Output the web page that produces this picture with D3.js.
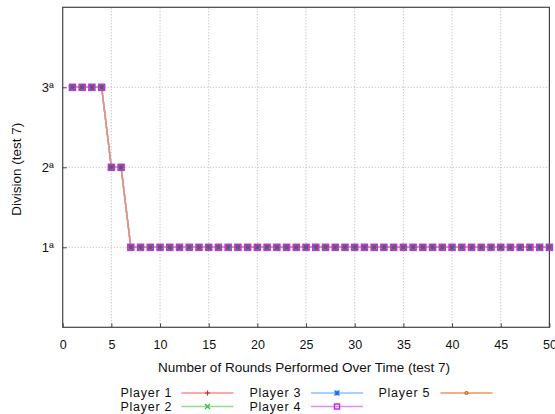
<!DOCTYPE html>
<html>
<head>
<meta charset="utf-8">
<script src="https://cdn.jsdelivr.net/npm/d3@7"></script>
<style>
  body { margin: 0; background: #fff; }
  text { font-family: "Liberation Sans", Arial, sans-serif; fill: #111; }
</style>
</head>
<body>
<svg id="chart" width="555" height="414"></svg>
<script>
// Rounds 1..50 and the division each player held (all five players share the same path)
const rounds = d3.range(1, 51);
const player1 = [3,3,3,3,2,2,1,1,1,1,1,1,1,1,1,1,1,1,1,1,1,1,1,1,1,1,1,1,1,1,1,1,1,1,1,1,1,1,1,1,1,1,1,1,1,1,1,1,1,1];
const player2 = [3,3,3,3,2,2,1,1,1,1,1,1,1,1,1,1,1,1,1,1,1,1,1,1,1,1,1,1,1,1,1,1,1,1,1,1,1,1,1,1,1,1,1,1,1,1,1,1,1,1];
const player3 = [3,3,3,3,2,2,1,1,1,1,1,1,1,1,1,1,1,1,1,1,1,1,1,1,1,1,1,1,1,1,1,1,1,1,1,1,1,1,1,1,1,1,1,1,1,1,1,1,1,1];
const player4 = [3,3,3,3,2,2,1,1,1,1,1,1,1,1,1,1,1,1,1,1,1,1,1,1,1,1,1,1,1,1,1,1,1,1,1,1,1,1,1,1,1,1,1,1,1,1,1,1,1,1];
const player5 = [3,3,3,3,2,2,1,1,1,1,1,1,1,1,1,1,1,1,1,1,1,1,1,1,1,1,1,1,1,1,1,1,1,1,1,1,1,1,1,1,1,1,1,1,1,1,1,1,1,1];

const seriesNames = ["Player 1", "Player 2", "Player 3", "Player 4", "Player 5"];
const xTicks = [0,5,10,15,20,25,30,35,40,45,50];
const yTicks = [1,2,3];
const yTickLabels = ["1ª","2ª","3ª"];

const series = [
  { name: seriesNames[0], values: player1, line: "#ff8a8a", mark: "#e02020", shape: "plus" },
  { name: seriesNames[1], values: player2, line: "#8ee08e", mark: "#30c030", shape: "cross" },
  { name: seriesNames[2], values: player3, line: "#8ec0ff", mark: "#2070e0", shape: "star" },
  { name: seriesNames[3], values: player4, line: "#e08cff", mark: "#c030e0", shape: "square" },
  { name: seriesNames[4], values: player5, line: "#e89468", mark: "#d06028", shape: "circle" }
];

const svg = d3.select("#chart");
const m = { left: 62.7, right: 549.4, top: 7.3, bottom: 327.3 };

const x = d3.scaleLinear().domain([0, 50]).range([m.left, m.right]);
const y = d3.scaleLinear().domain([0, 4]).range([m.bottom, m.top]);

// grid
const grid = svg.append("g").attr("stroke", "#b0b0b0").attr("stroke-width", 1).attr("stroke-dasharray", "1,2");
grid.selectAll(".gx").data(xTicks.slice(1, -1)).enter().append("line")
  .attr("x1", d => x(d)).attr("x2", d => x(d)).attr("y1", m.bottom).attr("y2", m.top);
grid.selectAll(".gy").data(yTicks).enter().append("line")
  .attr("x1", m.left).attr("x2", m.right).attr("y1", d => y(d)).attr("y2", d => y(d));

// axes
const xAxis = d3.axisBottom(x).tickValues(xTicks).tickSize(-4).tickPadding(10).tickFormat(d3.format("d"));
const gx = svg.append("g").attr("transform", `translate(0,${m.bottom})`).call(xAxis);
gx.select(".domain").remove();
gx.selectAll("line").attr("stroke", "#444");
gx.selectAll("text").attr("font-size", 12.5).style("fill", "#111").attr("dy", "0.9em");

const yAxis = d3.axisLeft(y).tickValues(yTicks).tickSize(-4).tickPadding(9)
  .tickFormat((d, i) => yTickLabels[i]);
const gy = svg.append("g").attr("transform", `translate(${m.left},0)`).call(yAxis);
gy.select(".domain").remove();
gy.selectAll("line").attr("stroke", "#444");
gy.selectAll("text").attr("font-size", 13).style("fill", "#111");

// frame
svg.append("rect").attr("x", m.left).attr("y", m.top)
  .attr("width", m.right - m.left).attr("height", m.bottom - m.top)
  .attr("fill", "none").attr("stroke", "#444").attr("stroke-width", 1.2);

// axis titles
svg.append("text").attr("x", (m.left + m.right) / 2 - 2).attr("y", 372)
  .attr("text-anchor", "middle").attr("font-size", 13.5)
  .text("Number of Rounds Performed Over Time (test 7)");
svg.append("text").attr("transform", `translate(21,${(m.top + m.bottom) / 2 + 2}) rotate(-90)`)
  .attr("text-anchor", "middle").attr("font-size", 13.5)
  .text("Division (test 7)");

// marker shapes
function marker(g, shape, color, cx, cy, s) {
  const h = s / 2;
  if (shape === "plus") {
    g.append("path").attr("d", `M${cx-h},${cy}H${cx+h}M${cx},${cy-h}V${cy+h}`).attr("stroke", color).attr("stroke-width", 1.2).attr("fill", "none");
  } else if (shape === "cross") {
    g.append("path").attr("d", `M${cx-h},${cy-h}L${cx+h},${cy+h}M${cx-h},${cy+h}L${cx+h},${cy-h}`).attr("stroke", color).attr("stroke-width", 1.2).attr("fill", "none");
  } else if (shape === "star") {
    g.append("path").attr("d", `M${cx-h},${cy}H${cx+h}M${cx},${cy-h}V${cy+h}M${cx-h},${cy-h}L${cx+h},${cy+h}M${cx-h},${cy+h}L${cx+h},${cy-h}`).attr("stroke", color).attr("stroke-width", 1.2).attr("fill", "none");
  } else if (shape === "square") {
    g.append("rect").attr("x", cx - h).attr("y", cy - h).attr("width", s).attr("height", s).attr("stroke", color).attr("stroke-width", 1.5).attr("fill", "none");
  } else {
    g.append("circle").attr("cx", cx).attr("cy", cy).attr("r", h * 0.6).attr("stroke", color).attr("stroke-width", 1.2).attr("fill", "none");
  }
}

// series
const line = d3.line().x((d, i) => x(rounds[i])).y(d => y(d));
const plot = svg.append("g");
series.forEach(s => {
  plot.append("path").attr("d", line(s.values)).attr("fill", "none")
    .attr("stroke", s.line).attr("stroke-width", 1.4);
});
series.forEach(s => {
  const g = plot.append("g");
  s.values.forEach((v, i) => marker(g, s.shape, s.mark, x(rounds[i]), y(v), 6));
});
// inner fill of the stacked markers
plot.selectAll(".core").data(player5).enter().append("rect")
  .attr("x", (d, i) => x(rounds[i]) - 2).attr("y", d => y(d) - 2)
  .attr("width", 4).attr("height", 4).attr("fill", "#4a5a78").attr("opacity", 0.85);

// legend
const legendRows = [
  { col: 0, row: 0 }, { col: 0, row: 1 }, { col: 1, row: 0 }, { col: 1, row: 1 }, { col: 2, row: 0 }
];
const colText = [120.5, 249.5, 378.5];
const colLine = [181.5, 311, 440.5];
const rowY = [392.5, 406];
series.forEach((s, i) => {
  const p = legendRows[i];
  const g = svg.append("g");
  g.append("text").attr("x", colText[p.col]).attr("y", rowY[p.row]).attr("dy", "0.36em")
    .attr("font-size", 12.5).attr("textLength", 51).attr("lengthAdjust", "spacing").text(s.name);
  g.append("line").attr("x1", colLine[p.col]).attr("x2", colLine[p.col] + 52)
    .attr("y1", rowY[p.row] + 0.5).attr("y2", rowY[p.row] + 0.5)
    .attr("stroke", s.line).attr("stroke-width", 1.5);
  marker(g, s.shape, s.mark, colLine[p.col] + 26, rowY[p.row] + 0.5, 5);
});
</script>
</body>
</html>
